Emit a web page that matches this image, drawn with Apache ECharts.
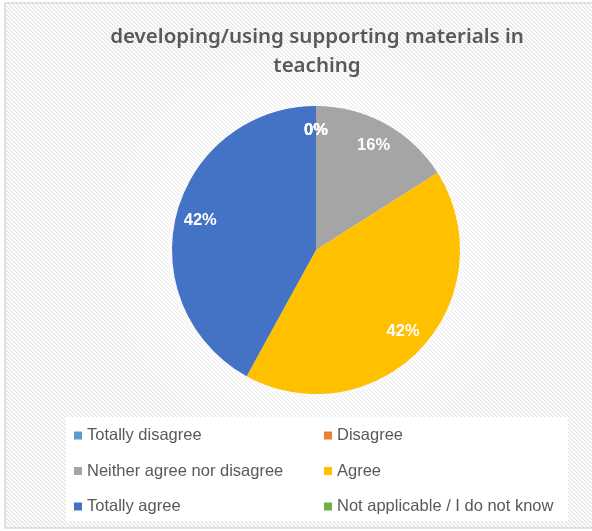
<!DOCTYPE html>
<html>
<head>
<meta charset="utf-8">
<script src="https://cdn.jsdelivr.net/npm/echarts@6/dist/echarts.min.js"></script>
<style>
  html, body { margin: 0; padding: 0; background: #ffffff; }
  #chart { width: 592px; height: 531px; }
</style>
</head>
<body>
<div id="chart"></div>
<script>
// Survey answers for "developing/using supporting materials in teaching" (percent)
const categories = [
  'Totally disagree',
  'Disagree',
  'Neither agree nor disagree',
  'Agree',
  'Totally agree',
  'Not applicable / I do not know'
];
const values = [0, 0, 16, 42, 42, 0];
const colors = ['#5B9BD5', '#ED7D31', '#A5A5A5', '#FFC000', '#4472C4', '#70AD47'];
const titleLines = ['developing/using supporting materials in', 'teaching'];

// Legend columns (left column, right column)
const legendLeft = [categories[0], categories[2], categories[4]];
const legendRight = [categories[1], categories[3], categories[5]];

// Pie geometry
const pieCenter = [316, 250];
const pieRadius = 144;
const labelRadiusRatio = 0.83; // labels sit near the rim

// Fine diagonal hatch used as the chart area fill
function makeHatch() {
  const c = document.createElement('canvas');
  c.width = 4; c.height = 4;
  const g = c.getContext('2d');
  g.fillStyle = '#ffffff';
  g.fillRect(0, 0, 4, 4);
  for (let i = 0; i < 4; i++) {
    g.fillStyle = '#e1e1e1';
    g.fillRect(i, i, 1, 1);
    g.fillStyle = '#efefef';
    g.fillRect((i + 1) % 4, i, 1, 1);
  }
  return c;
}

const total = values.reduce((a, b) => a + b, 0);
// mid angle (radians, math orientation) of each slice, starting at 12 o'clock, clockwise
const midAngles = (function () {
  let cum = 0;
  return values.map(v => {
    const a = Math.PI / 2 - 2 * Math.PI * (cum + v / 2) / total;
    cum += v;
    return a;
  });
})();

const chart = echarts.init(document.getElementById('chart'), null, { renderer: 'canvas' });

const legendText = { color: '#595959', fontSize: 16.5, fontFamily: 'Liberation Sans, Arial, sans-serif' };
const titleFont = '600 20.5px "Noto Sans", "Liberation Sans", sans-serif';

const option = {
  backgroundColor: '#ffffff',
  animation: false,
  color: colors,
  graphic: [
    {
      type: 'rect', z: -10, silent: true,
      shape: { x: 5, y: 3, width: 620, height: 525 },
      style: { fill: { image: makeHatch(), repeat: 'repeat' }, stroke: '#d9d9d9', lineWidth: 1.5 }
    },
    {
      type: 'circle', z: -9, silent: true,
      shape: { cx: pieCenter[0], cy: pieCenter[1], r: 230 },
      style: {
        fill: new echarts.graphic.RadialGradient(0.5, 0.5, 0.5, [
          { offset: 0, color: 'rgba(255,255,255,0.85)' },
          { offset: 0.6, color: 'rgba(255,255,255,0.5)' },
          { offset: 1, color: 'rgba(255,255,255,0)' }
        ])
      }
    },
    {
      type: 'rect', z: -8, silent: true,
      shape: { x: 66, y: 417, width: 502, height: 104 },
      style: { fill: '#ffffff' }
    },
    {
      type: 'text', z: 10, silent: true,
      x: 317, y: 37,
      style: { text: titleLines[0], font: titleFont, fill: '#595959', align: 'center', verticalAlign: 'middle' }
    },
    {
      type: 'text', z: 10, silent: true,
      x: 317, y: 66,
      style: { text: titleLines[1], font: titleFont, fill: '#595959', align: 'center', verticalAlign: 'middle' }
    }
  ],
  legend: [
    {
      data: legendLeft,
      orient: 'vertical',
      left: 69,
      top: 422,
      itemWidth: 8,
      itemHeight: 8,
      itemGap: 18.5,
      icon: 'rect',
      selectedMode: false,
      textStyle: legendText
    },
    {
      data: legendRight,
      orient: 'vertical',
      left: 319,
      top: 422,
      itemWidth: 8,
      itemHeight: 8,
      itemGap: 18.5,
      icon: 'rect',
      selectedMode: false,
      textStyle: legendText
    }
  ],
  series: [
    {
      type: 'pie',
      center: pieCenter,
      radius: pieRadius,
      startAngle: 90,
      clockwise: true,
      avoidLabelOverlap: false,
      itemStyle: { borderWidth: 0 },
      emphasis: { disabled: true },
      label: {
        show: true,
        position: 'inside',
        color: '#ffffff',
        fontSize: 16.5,
        fontWeight: 'bold',
        fontFamily: 'Liberation Sans, Arial, sans-serif',
        formatter: p => Math.round(p.percent) + '%'
      },
      labelLine: { show: false },
      // place each label along its slice's mid angle, close to the rim
      labelLayout: function (params) {
        const a = midAngles[params.dataIndex];
        const rr = pieRadius * labelRadiusRatio;
        return {
          x: pieCenter[0] + rr * Math.cos(a),
          y: pieCenter[1] - rr * Math.sin(a),
          align: 'center',
          verticalAlign: 'middle'
        };
      },
      data: categories.map((name, i) => ({ name: name, value: values[i] }))
    }
  ]
};

chart.setOption(option);
</script>
</body>
</html>
